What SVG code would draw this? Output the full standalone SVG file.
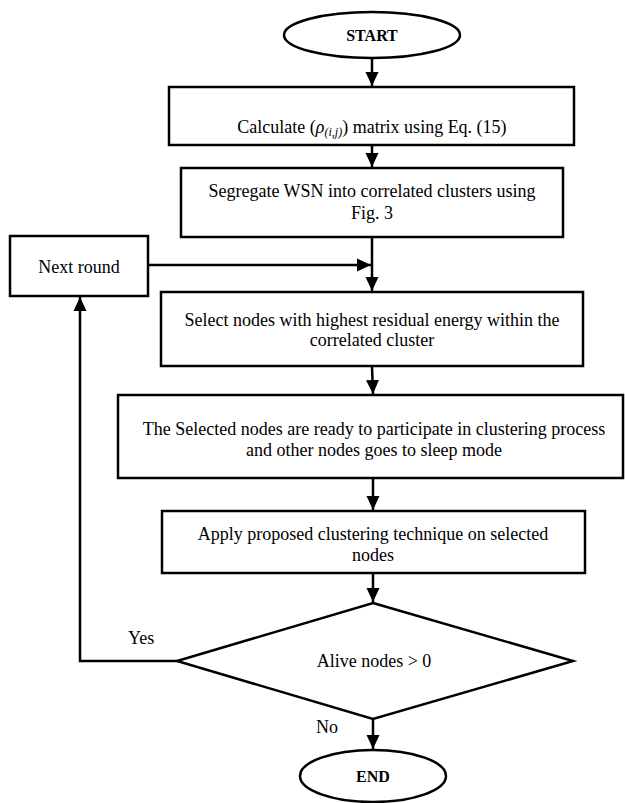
<svg xmlns="http://www.w3.org/2000/svg" width="625" height="803" viewBox="0 0 625 803">
<style>
.s{fill:#fff;stroke:#000;stroke-width:2.5}
.c{fill:none;stroke:#000;stroke-width:2.5}
text{font-size:18px;fill:#000;text-anchor:middle}
.b{font-weight:bold;font-size:16px}
.l{text-anchor:start}
</style>
<defs>
<marker id="a" markerUnits="userSpaceOnUse" markerWidth="14" markerHeight="14" viewBox="0 0 14 14" refX="14" refY="7" orient="auto">
<path d="M0,0.5 L14,7 L0,13.5 Z" fill="#000"/>
</marker>
</defs>
<rect width="625" height="803" fill="#fff"/>
<g font-family="'Liberation Serif', 'Times New Roman', serif">
<g id="connectors">
<line class="c" x1="372" y1="58" x2="372" y2="86" marker-end="url(#a)"/>
<line class="c" x1="372" y1="145" x2="372" y2="167" marker-end="url(#a)"/>
<line class="c" x1="372" y1="237" x2="372" y2="291" marker-end="url(#a)"/>
<line class="c" x1="148" y1="265" x2="371" y2="265" marker-end="url(#a)"/>
<line class="c" x1="372" y1="366" x2="373" y2="394" marker-end="url(#a)"/>
<line class="c" x1="373" y1="478" x2="373" y2="510" marker-end="url(#a)"/>
<line class="c" x1="373" y1="573" x2="373" y2="602" marker-end="url(#a)"/>
<polyline class="c" points="177,661 80,661 80,297" marker-end="url(#a)"/>
<line class="c" x1="373" y1="719" x2="373" y2="749" marker-end="url(#a)"/>
<text class="l" x="128" y="644">Yes</text>
<text class="l" x="316" y="733">No</text>
</g>
<g id="start"><ellipse class="s" cx="372" cy="35" rx="88" ry="23"/><text class="b" x="372" y="41">START</text></g>
<g id="calc"><rect class="s" x="169" y="87" width="405" height="58"/><text x="372" y="133">Calculate (<tspan font-style="italic">ρ</tspan><tspan font-style="italic" font-size="12" dy="3">(i,j)</tspan><tspan dy="-3">) matrix using Eq. (15)</tspan></text></g>
<g id="segregate"><rect class="s" x="181" y="168" width="382" height="69"/><text x="372" y="197">Segregate WSN into correlated clusters using</text><text x="372" y="219">Fig. 3</text></g>
<g id="nextround"><rect class="s" x="10" y="236" width="138" height="60"/><text x="79" y="273">Next round</text></g>
<g id="select"><rect class="s" x="161" y="292" width="422" height="74"/><text x="372" y="326">Select nodes with highest residual energy within the</text><text x="372" y="346">correlated cluster</text></g>
<g id="ready"><rect class="s" x="118" y="395" width="505" height="83"/><text x="374" y="435">The Selected nodes are ready to participate in clustering process</text><text x="374" y="456">and other nodes goes to sleep mode</text></g>
<g id="apply"><rect class="s" x="162" y="511" width="423" height="62"/><text x="373" y="540">Apply proposed clustering technique on selected</text><text x="373" y="561">nodes</text></g>
<g id="decision"><polygon class="s" points="373,603 573,661 373,719 177,661"/><text x="374" y="667">Alive nodes &gt; 0</text></g>
<g id="end"><ellipse class="s" cx="373" cy="776" rx="73" ry="26"/><text class="b" x="373" y="782">END</text></g>
</g>
</svg>
